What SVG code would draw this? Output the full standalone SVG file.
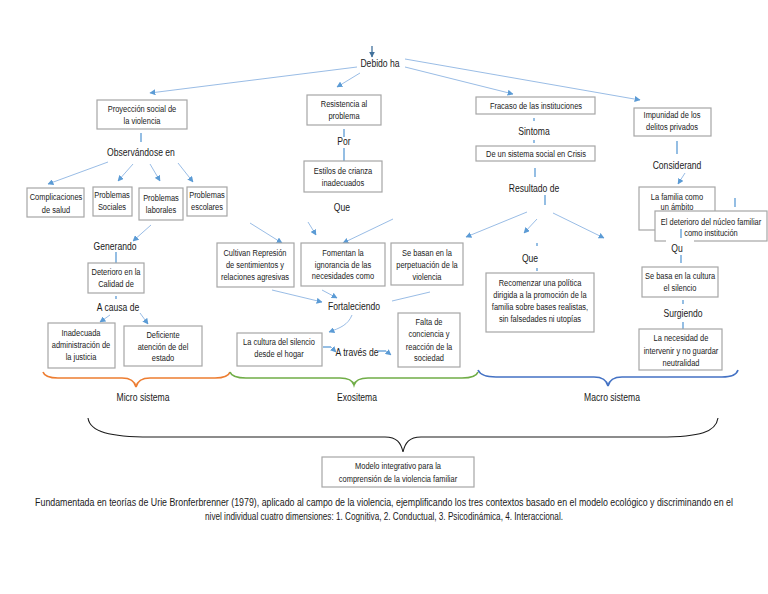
<svg xmlns="http://www.w3.org/2000/svg" width="768" height="594" viewBox="0 0 768 594">
<style>
text{font-family:"Liberation Sans",Arial,sans-serif;fill:#1a1a1a;text-anchor:middle}
.b text{font-size:9px}
.lbl text, text.lbl{font-size:10px}
.box{fill:#fff;stroke:#a6a6a6;stroke-width:1.2}
.c{fill:none;stroke:#8db4e2;stroke-width:0.9}
.a{marker-end:url(#ah)}
.v{fill:none;stroke:#5b9bd5;stroke-width:1.3}
.cap text{font-size:10px}
</style>
<defs>
<marker id="ah" viewBox="0 0 10 10" refX="9" refY="5" markerWidth="6" markerHeight="6" markerUnits="userSpaceOnUse" orient="auto">
<path d="M0,0 L10,5 L0,10 z" fill="#5b9bd5"/>
</marker>
<marker id="ahd" viewBox="0 0 10 10" refX="9" refY="5" markerWidth="6" markerHeight="6" markerUnits="userSpaceOnUse" orient="auto">
<path d="M0,0 L10,5 L0,10 z" fill="#41719c"/>
</marker>
</defs>
<rect width="768" height="594" fill="#fff"/>

<g id="connectors">
<line x1="372" y1="46" x2="372" y2="57" stroke="#41719c" stroke-width="1.3" marker-end="url(#ahd)"/>
<line class="c a" x1="357" y1="67" x2="150" y2="93"/>
<line class="c a" x1="360" y1="73" x2="337" y2="87"/>
<line class="c a" x1="405" y1="67" x2="513" y2="94"/>
<line class="c a" x1="405" y1="59" x2="640" y2="100"/>
<line class="v" x1="141" y1="133" x2="141" y2="142"/>
<line class="c a" x1="108" y1="162" x2="48" y2="184"/>
<line class="c a" x1="133" y1="164" x2="118" y2="181"/>
<line class="c a" x1="150" y1="164" x2="160" y2="181"/>
<line class="c a" x1="178" y1="163" x2="193" y2="182"/>
<line class="c a" x1="151" y1="225" x2="133" y2="241"/>
<line class="v" x1="116" y1="252" x2="116" y2="263"/>
<line class="v" x1="116" y1="296" x2="116" y2="299"/>
<line class="c a" x1="110" y1="315" x2="100" y2="322"/>
<line class="c a" x1="140" y1="313" x2="148" y2="324"/>
<line class="v" x1="344" y1="129" x2="344" y2="137"/>
<line class="v" x1="344" y1="148" x2="344" y2="161"/>
<line class="c a" x1="250" y1="223" x2="282" y2="243"/>
<line class="c a" x1="308" y1="222" x2="316" y2="235"/>
<line class="c a" x1="393" y1="219" x2="343" y2="243"/>
<line class="c a" x1="272" y1="290" x2="322" y2="302"/>
<line class="c a" x1="322" y1="290" x2="337" y2="298"/>
<line class="c" x1="430" y1="292" x2="392" y2="301"/>
<path class="c a" d="M352,315 C348,325 340,328 329,332"/>
<path class="v" d="M323,347 L331,347"/>
<path class="c a" d="M331,347 L336,352"/>
<path class="v" d="M378,351 L386,351"/>
<path class="c a" d="M386,351 L391,355"/>
<line class="v" x1="534" y1="118" x2="534" y2="121"/>
<line class="v" x1="534" y1="140" x2="534" y2="143"/>
<line class="v" x1="535" y1="168" x2="535" y2="177"/>
<line class="v" x1="545" y1="195" x2="545" y2="205"/>
<line class="c a" x1="527" y1="212" x2="466" y2="237"/>
<line class="c a" x1="537" y1="219" x2="524" y2="233"/>
<line class="c a" x1="553" y1="213" x2="604" y2="238"/>
<line class="v" x1="537" y1="243" x2="537" y2="246"/>
<line class="v" x1="537" y1="268" x2="537" y2="271"/>
<line class="v" x1="677" y1="141" x2="677" y2="154"/>
<line class="c a" x1="685" y1="173" x2="678" y2="184"/>
<line class="v" x1="735" y1="198" x2="735" y2="207"/>
<line class="v" x1="683" y1="300" x2="683" y2="304"/>
<line class="v" x1="683" y1="322" x2="683" y2="329"/>
</g>

<g id="braces" fill="none">
<path d="M43,372 Q45,378 58,378 L122,378 Q134,378 136,387 Q138,378 150,378 L215,378 Q228,378 230,372" stroke="#ed7d31" stroke-width="1.6"/>
<path d="M230,372 Q232,378 246,378 L340,378 Q352,378 354,385 Q356,378 368,378 L462,378 Q476,378 478,372" stroke="#70ad47" stroke-width="1.6"/>
<path d="M478,370 Q481,377 496,377 L594,377 Q606,377 608,386 Q610,377 622,377 L722,377 Q736,377 738,370" stroke="#4472c4" stroke-width="1.6"/>
<path d="M88,418 C90,432 110,437 150,437 L385,437 C397,437 401,443 403,452 C405,443 409,437 421,437 L660,437 C700,437 716,432 718,418" stroke="#1a1a1a" stroke-width="1.1"/>
</g>

<g id="labels" class="lbl">
<g transform="scale(0.86 1)">
<text x="441.86" y="67.5">Debido ha</text>
<text x="163.95" y="156.5">Observándose en</text>
<text x="133.72" y="250.5">Generando</text>
<text x="137.21" y="311.5">A causa de</text>
<text x="166.28" y="401.5">Micro sistema</text>
<text x="400" y="145.5">Por</text>
<text x="397.67" y="211.5">Que</text>
<text x="411.63" y="310.5">Fortaleciendo</text>
<text x="415.12" y="356.5">A través de</text>
<text x="415.12" y="401.5">Exositema</text>
<text x="620.93" y="135.5">Sintoma</text>
<text x="620.93" y="192.5">Resultado de</text>
<text x="616.28" y="262.5">Que</text>
<text x="711.63" y="401.5">Macro sistema</text>
<text x="787.21" y="169.5">Considerand</text>
<text x="794.19" y="317.5">Surgiendo</text>
</g>
</g>

<g class="b">
<g id="n-proyeccion"><rect class="box" x="97" y="100" width="90" height="29"/><g transform="scale(0.83 1)"><text x="171.08" y="112">Proyección social de</text><text x="171.08" y="124">la violencia</text></g></g>
<g id="n-complicaciones"><rect class="box" x="27" y="188" width="57" height="29"/><g transform="scale(0.83 1)"><text x="67.47" y="200">Complicaciones</text><text x="67.47" y="213">de salud</text></g></g>
<g id="n-sociales"><rect class="box" x="93" y="187" width="39" height="29"/><g transform="scale(0.83 1)"><text x="134.94" y="198">Problemas</text><text x="134.94" y="210">Sociales</text></g></g>
<g id="n-laborales"><rect class="box" x="139" y="188" width="44" height="32"/><g transform="scale(0.83 1)"><text x="193.98" y="201">Problemas</text><text x="193.98" y="213">laborales</text></g></g>
<g id="n-escolares"><rect class="box" x="187" y="187" width="40" height="29"/><g transform="scale(0.83 1)"><text x="249.40" y="198">Problemas</text><text x="249.40" y="210">escolares</text></g></g>
<g id="n-deterioro-calidad"><rect class="box" x="88" y="263" width="56" height="30"/><g transform="scale(0.83 1)"><text x="139.76" y="275">Deterioro en la</text><text x="139.76" y="287">Calidad de</text></g></g>
<g id="n-inadecuada"><rect class="box" x="48" y="323" width="67" height="45"/><g transform="scale(0.83 1)"><text x="97.59" y="336">Inadecuada</text><text x="97.59" y="348">administración de</text><text x="97.59" y="360">la justicia</text></g></g>
<g id="n-deficiente"><rect class="box" x="124" y="326" width="78" height="40"/><g transform="scale(0.83 1)"><text x="196.39" y="338">Deficiente</text><text x="196.39" y="350">atención de del</text><text x="196.39" y="361">estado</text></g></g>
<g id="n-resistencia"><rect class="box" x="307" y="95" width="74" height="30"/><g transform="scale(0.83 1)"><text x="414.46" y="107">Resistencia al</text><text x="414.46" y="119">problema</text></g></g>
<g id="n-estilos"><rect class="box" x="304" y="161" width="78" height="31"/><g transform="scale(0.83 1)"><text x="413.25" y="174">Estilos de crianza</text><text x="413.25" y="186">inadecuados</text></g></g>
<g id="n-cultivan"><rect class="box" x="217" y="243" width="77" height="44"/><g transform="scale(0.83 1)"><text x="307.23" y="256">Cultivan Represión</text><text x="307.23" y="268">de sentimientos  y</text><text x="307.23" y="280">relaciones agresivas</text></g></g>
<g id="n-fomentan"><rect class="box" x="301" y="243" width="84" height="43"/><g transform="scale(0.83 1)"><text x="413.25" y="256">Fomentan la</text><text x="413.25" y="268">ignorancia de las</text><text x="413.25" y="279">necesidades como</text></g></g>
<g id="n-sebasan"><rect class="box" x="391" y="243" width="72" height="42"/><g transform="scale(0.83 1)"><text x="514.46" y="256">Se basan en  la</text><text x="514.46" y="268">perpetuación de la</text><text x="514.46" y="280">violencia</text></g></g>
<g id="n-cultura"><rect class="box" x="237" y="333" width="85" height="33"/><g transform="scale(0.83 1)"><text x="336.14" y="345">La cultura del silencio</text><text x="336.14" y="357">desde el hogar</text></g></g>
<g id="n-falta"><rect class="box" x="398" y="313" width="62" height="54"/><g transform="scale(0.83 1)"><text x="516.87" y="325">Falta de</text><text x="516.87" y="337">conciencia y</text><text x="516.87" y="350">reacción de la</text><text x="516.87" y="361">sociedad</text></g></g>
<g id="n-fracaso"><rect class="box" x="476" y="97" width="119" height="17"/><g transform="scale(0.83 1)"><text x="645.78" y="109">Fracaso de las instituciones</text></g></g>
<g id="n-sistema"><rect class="box" x="476" y="146" width="119" height="15"/><g transform="scale(0.83 1)"><text x="645.78" y="157">De un sistema social en Crisis</text></g></g>
<g id="n-recomenzar"><rect class="box" x="486" y="273" width="108" height="59"/><g transform="scale(0.83 1)"><text x="650.60" y="286">Recomenzar una política</text><text x="650.60" y="298">dirigida a la promoción de la</text><text x="650.60" y="310">familia  sobre bases realistas,</text><text x="650.60" y="322">sin falsedades ni utopías</text></g></g>
<g id="n-impunidad"><rect class="box" x="634" y="108" width="77" height="28"/><g transform="scale(0.83 1)"><text x="809.64" y="118">Impunidad de los</text><text x="809.64" y="130">delitos privados</text></g></g>
<g id="n-familia"><rect class="box" x="639" y="187" width="76" height="43"/><g transform="scale(0.83 1)"><text x="815.66" y="200">La familia como</text><text x="815.66" y="210">un ámbito</text></g></g>
<g id="n-deterioro-nucleo"><rect class="box" x="655" y="211" width="112" height="30"/><g transform="scale(0.83 1)"><text x="856.63" y="225">El deterioro del núcleo familiar</text><text x="856.63" y="236">como institución</text></g>
<line class="v" x1="681" y1="229" x2="681" y2="238"/>
<rect x="666" y="239" width="28" height="8" fill="#fff"/>
<g transform="scale(0.86 1)"><text class="lbl" x="787.21" y="252">Qu</text></g>
<line class="v" x1="681" y1="255" x2="681" y2="263"/></g>
<g id="n-sebasa"><rect class="box" x="642" y="267" width="76" height="30"/><g transform="scale(0.83 1)"><text x="819.28" y="279">Se basa en la cultura</text><text x="819.28" y="291">el silencio</text></g></g>
<g id="n-necesidad"><rect class="box" x="639" y="329" width="83" height="41"/><g transform="scale(0.83 1)"><text x="820.48" y="341">La necesidad de</text><text x="820.48" y="354">intervenir y no guardar</text><text x="820.48" y="366">neutralidad</text></g></g>
<g id="n-modelo"><rect class="box" x="322" y="457" width="152" height="30"/><g transform="scale(0.83 1)"><text x="479.52" y="469">Modelo integrativo para la</text><text x="479.52" y="482">comprensión de la violencia familiar</text></g></g>
</g>

<g id="caption" class="cap">
<g transform="scale(0.82 1)">
<text x="468.29" y="506" textLength="851" lengthAdjust="spacingAndGlyphs">Fundamentada en teorías  de Urie Bronferbrenner (1979), aplicado al campo de la violencia, ejemplificando los tres  contextos basado en el modelo ecológico y discriminando en el</text>
<text x="468.29" y="520">nivel individual cuatro dimensiones: 1. Cognitiva, 2. Conductual, 3. Psicodinámica, 4. Interaccional.</text>
</g>
</g>
</svg>
